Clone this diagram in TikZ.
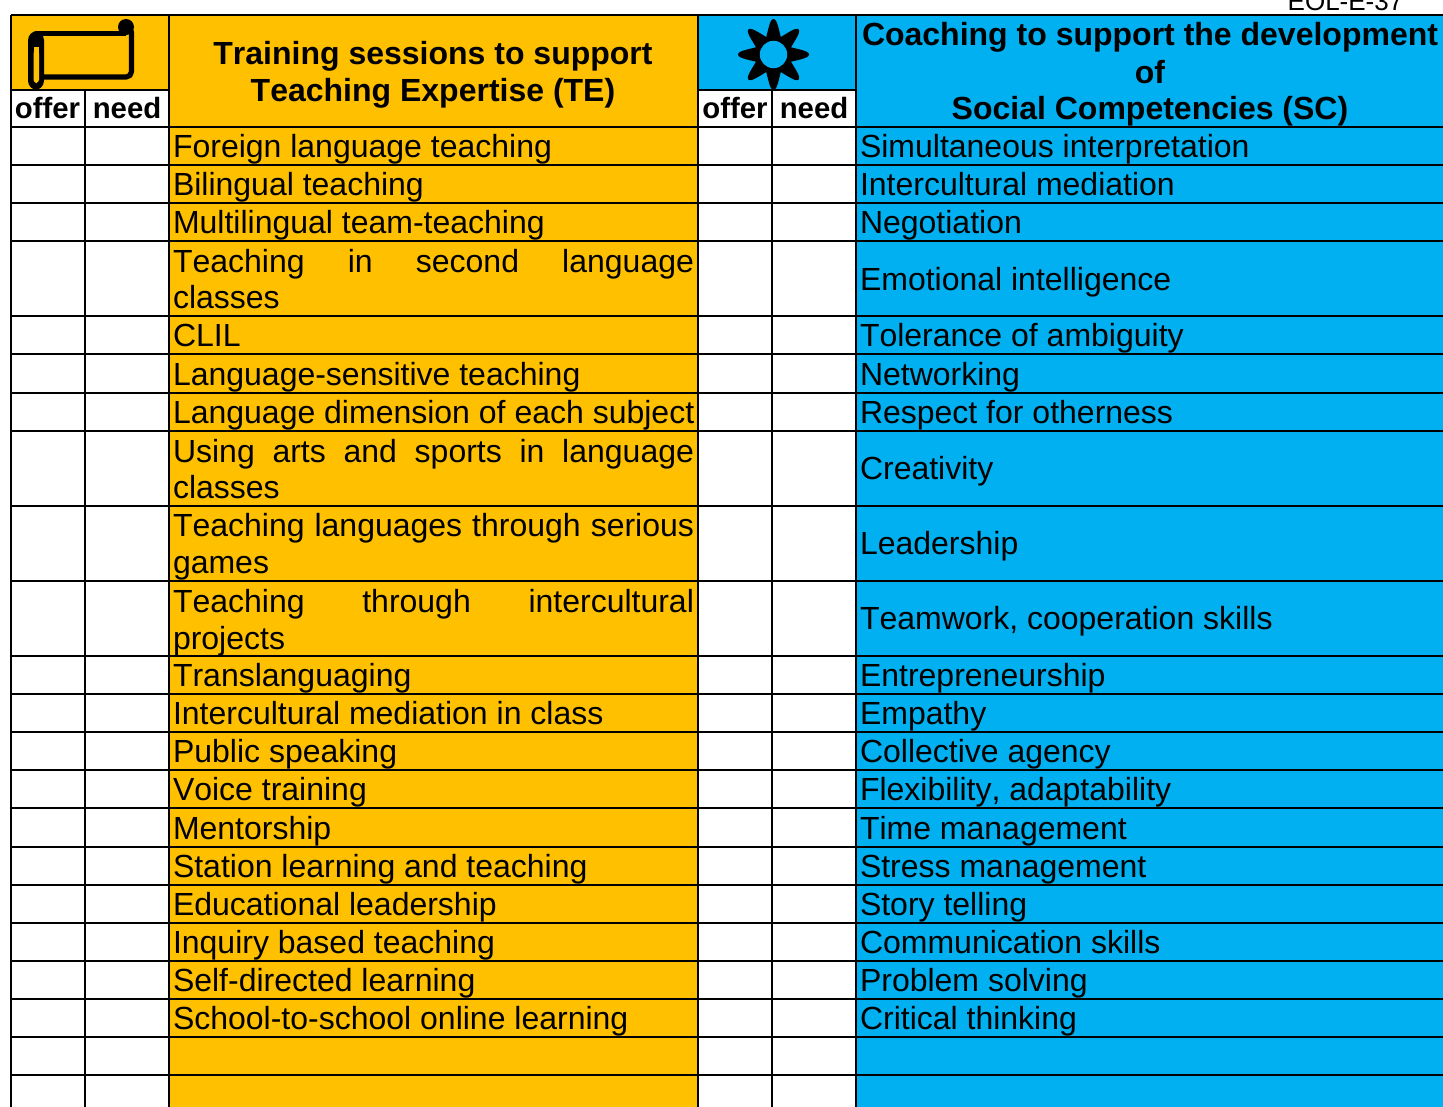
\documentclass[tikz,border=0pt]{standalone}
\usepackage{fontspec}
\setmainfont[Kerning=Off]{Liberation Sans}
\definecolor{orangefill}{HTML}{FFC000}
\definecolor{bluefill}{HTML}{00B0F0}
\tikzset{
 x=0.75pt,y=-0.75pt,
 grid/.style={line width=1.5pt,draw=black},
 item/.style={anchor=base west,inner sep=0pt,outer sep=0pt,font=\fontsize{24}{27.6}\selectfont},
 itemtwo/.style={anchor=west,inner sep=0pt,outer sep=0pt,text width=390.75pt,align=left,font=\fontsize{24}{27.6}\selectfont},
 head/.style={anchor=base,inner sep=0pt,outer sep=0pt,font=\fontsize{24}{27.6}\selectfont\bfseries},
 tick/.style={anchor=base,inner sep=0pt,outer sep=0pt,font=\fontsize{22}{26}\selectfont\bfseries},
 ref/.style={anchor=base,inner sep=0pt,outer sep=0pt,font=\fontsize{19.5}{22}\selectfont},
}
\newcommand{\just}[1]{\hbox to 390.75pt{#1}}
\begin{document}
\begin{tikzpicture}
\useasboundingbox (0,0) rectangle (1443,1107);
\clip (0,0) rectangle (1443,1107);
% fills
\fill[orangefill] (11,15) rectangle (169,90);
\fill[orangefill] (169,15) rectangle (698,1110);
\fill[bluefill] (698,15) rectangle (856,90);
\fill[bluefill] (856,15) rectangle (1445,1110);
% horizontal rules
\foreach \yy in {127,165,203,241,316,354,393,431,506,581,656,694,732,770,808,847,885,923,961,999,1037,1075}
  \draw[grid] (11,\yy) -- (1445,\yy);
\draw[grid] (11,15) -- (1445,15);
\draw[grid] (11,90) -- (169,90);
\draw[grid] (698,90) -- (856,90);
% vertical rules
\foreach \xx in {11,169,698,856}
  \draw[grid] (\xx,15) -- (\xx,1110);
\foreach \xx in {85,772}
  \draw[grid] (\xx,90) -- (\xx,1110);
% scroll icon
\draw[line width=3.9pt,rounded corners=4pt,line join=round] (126,27) -- (131.5,27) -- (131.5,77) -- (38,77);
\draw[line width=3.9pt,line join=round] (126,33.5) -- (36,33.5);
\fill[black,rounded corners=7pt] (28,31) rectangle (44,90);
\fill[orangefill,rounded corners=2.5pt] (33.5,50) -- (33.5,83) -- (39,83) -- (39,50) -- cycle;
\fill[orangefill] (33.5,47) rectangle (39,53);
\fill[black] (126,27) circle[radius=8];
% sun icon
\foreach \a in {0,45,...,315}
  \fill[black,rotate around={\a:(773.5,54.5)}] (764,44) .. controls (768,34) and (769,19) .. (773.5,19) .. controls (778,19) and (779,34) .. (783,44) -- cycle;
\fill[black] (773.5,54.5) circle[radius=18];
\fill[bluefill] (773.5,54.5) circle[radius=13.7];
% reference
\node[ref] (ref) at (1345.5,10) {EOL-E-37};
% headers
\node[head] (h1a) at (433,64) {Training sessions to support};
\node[head] (h1b) at (433,101) {Teaching Expertise (TE)};
\node[head] (h2a) at (1150,45) {Coaching to support the development};
\node[head] (h2b) at (1150,83) {of};
\node[head] (h2c) at (1150,119) {Social Competencies (SC)};
\node[tick] (o1) at (47.5,118) {offer};
\node[tick] (n1) at (127,118) {need};
\node[tick] (o2) at (735,118) {offer};
\node[tick] (n2) at (814,118) {need};
% left column
\node[item] (l1) at (173,157) {Foreign language teaching};
\node[item] (l2) at (173,195) {Bilingual teaching};
\node[item] (l3) at (173,233) {Multilingual team-teaching};
\node[itemtwo] (l4) at (173,279) {\just{Teaching\hfill in\hfill second\hfill language}\\classes};
\node[item] (l5) at (173,346) {CLIL};
\node[item] (l6) at (173,385) {Language-sensitive teaching};
\node[item] (l7) at (173,423) {Language dimension of each subject};
\node[itemtwo] (l8) at (173,469) {\just{Using\hfill arts\hfill and\hfill sports\hfill in\hfill language}\\classes};
\node[itemtwo] (l9) at (173,547) {\just{Teaching\hfill languages\hfill through\hfill serious}\\games};
\node[itemtwo] (l10) at (173,623) {\just{Teaching\hfill through\hfill intercultural}\\projects};
\node[item] (l11) at (173,686) {Translanguaging};
\node[item] (l12) at (173,724) {Intercultural mediation in class};
\node[item] (l13) at (173,762) {Public speaking};
\node[item] (l14) at (173,800) {Voice training};
\node[item] (l15) at (173,839) {Mentorship};
\node[item] (l16) at (173,877) {Station learning and teaching};
\node[item] (l17) at (173,915) {Educational leadership};
\node[item] (l18) at (173,953) {Inquiry based teaching};
\node[item] (l19) at (173,991) {Self-directed learning};
\node[item] (l20) at (173,1029) {School-to-school online learning};
% right column
\node[item] (r1) at (860,157) {Simultaneous interpretation};
\node[item] (r2) at (860,195) {Intercultural mediation};
\node[item] (r3) at (860,233) {Negotiation};
\node[item] (r4) at (860,290) {Emotional intelligence};
\node[item] (r5) at (860,346) {Tolerance of ambiguity};
\node[item] (r6) at (860,385) {Networking};
\node[item] (r7) at (860,423) {Respect for otherness};
\node[item] (r8) at (860,479) {Creativity};
\node[item] (r9) at (860,554) {Leadership};
\node[item] (r10) at (860,629) {Teamwork, cooperation skills};
\node[item] (r11) at (860,686) {Entrepreneurship};
\node[item] (r12) at (860,724) {Empathy};
\node[item] (r13) at (860,762) {Collective agency};
\node[item] (r14) at (860,800) {Flexibility, adaptability};
\node[item] (r15) at (860,839) {Time management};
\node[item] (r16) at (860,877) {Stress management};
\node[item] (r17) at (860,915) {Story telling};
\node[item] (r18) at (860,953) {Communication skills};
\node[item] (r19) at (860,991) {Problem solving};
\node[item] (r20) at (860,1029) {Critical thinking};
\end{tikzpicture}
\end{document}
